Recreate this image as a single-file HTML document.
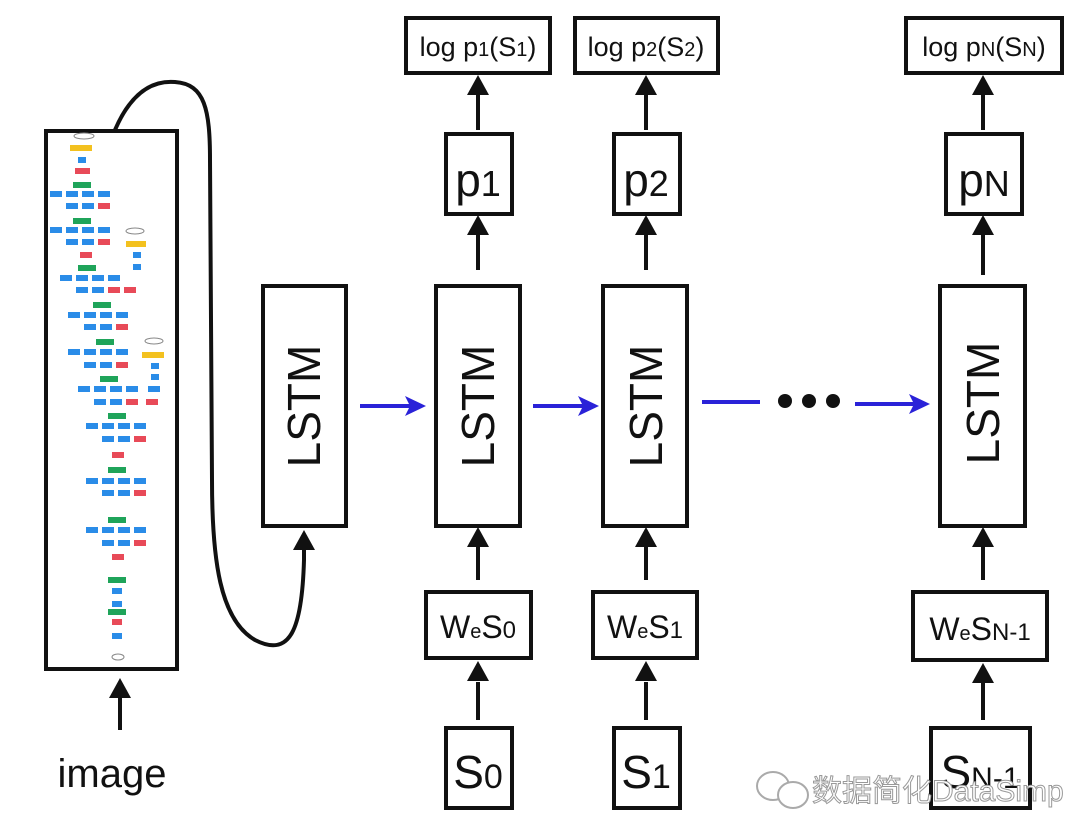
<!DOCTYPE html>
<html><head><meta charset="utf-8"><style>
html,body{margin:0;padding:0;background:#fff;}
svg{display:block;}
text{font-family:"Liberation Sans","Noto Sans CJK SC",sans-serif;fill:#111;}
</style></head><body>
<svg width="1080" height="840" viewBox="0 0 1080 840" xmlns="http://www.w3.org/2000/svg">
<g fill="none" stroke="#111" stroke-width="4">
<rect x="46" y="131" width="131" height="538"/>
<path d="M115,130 C130,95 150,80 175,82 C205,84 210,110 210,160 L212,480 C212,560 220,620 255,640 C290,658 302,630 304,560 L304,545"/>
<rect x="263" y="286" width="83" height="240"/>
<rect x="436" y="286" width="84" height="240"/>
<rect x="603" y="286" width="84" height="240"/>
<rect x="940" y="286" width="85" height="240"/>
<rect x="446" y="134" width="66" height="80"/>
<rect x="614" y="134" width="66" height="80"/>
<rect x="946" y="134" width="76" height="80"/>
<rect x="406" y="18" width="144" height="55"/>
<rect x="575" y="18" width="143" height="55"/>
<rect x="906" y="18" width="156" height="55"/>
<rect x="426" y="592" width="105" height="66"/>
<rect x="593" y="592" width="104" height="66"/>
<rect x="913" y="592" width="134" height="68"/>
<rect x="446" y="728" width="66" height="80"/>
<rect x="614" y="728" width="66" height="80"/>
<rect x="931" y="728" width="99" height="80"/>
</g>
<g stroke="#111" stroke-width="4">
<line x1="304" y1="560" x2="304" y2="545"/>
<line x1="478" y1="130" x2="478" y2="90"/><line x1="646" y1="130" x2="646" y2="90"/><line x1="983" y1="130" x2="983" y2="90"/>
<line x1="478" y1="270" x2="478" y2="230"/><line x1="646" y1="270" x2="646" y2="230"/><line x1="983" y1="275" x2="983" y2="230"/>
<line x1="478" y1="580" x2="478" y2="542"/><line x1="646" y1="580" x2="646" y2="542"/><line x1="983" y1="580" x2="983" y2="542"/>
<line x1="478" y1="720" x2="478" y2="682"/><line x1="646" y1="720" x2="646" y2="682"/><line x1="983" y1="720" x2="983" y2="682"/>
<line x1="120" y1="730" x2="120" y2="695"/>
</g>
<g fill="#111">
<path d="M304,530 L293,550 L315,550 Z"/>
<path d="M478,75 L467,95 L489,95 Z"/><path d="M646,75 L635,95 L657,95 Z"/><path d="M983,75 L972,95 L994,95 Z"/>
<path d="M478,215 L467,235 L489,235 Z"/><path d="M646,215 L635,235 L657,235 Z"/><path d="M983,215 L972,235 L994,235 Z"/>
<path d="M478,527 L467,547 L489,547 Z"/><path d="M646,527 L635,547 L657,547 Z"/><path d="M983,527 L972,547 L994,547 Z"/>
<path d="M478,661 L467,681 L489,681 Z"/><path d="M646,661 L635,681 L657,681 Z"/><path d="M983,663 L972,683 L994,683 Z"/>
<path d="M120,678 L109,698 L131,698 Z"/>
<circle cx="785" cy="401" r="7"/><circle cx="809" cy="401" r="7"/><circle cx="833" cy="401" r="7"/>
</g>
<g stroke="#2a22d8" stroke-width="4">
<line x1="360" y1="406" x2="415" y2="406"/>
<line x1="533" y1="406" x2="588" y2="406"/>
<line x1="702" y1="402" x2="760" y2="402"/>
<line x1="855" y1="404" x2="918" y2="404"/>
</g>
<g fill="#2a22d8">
<path d="M426,406 L405,396 L410,406 L405,416 Z"/>
<path d="M599,406 L578,396 L583,406 L578,416 Z"/>
<path d="M930,404 L909,394 L914,404 L909,414 Z"/>
</g>
<g font-size="46" style="fill:#fff;stroke:#111;stroke-width:0">
<text transform="translate(320,406) rotate(-90)" text-anchor="middle" style="fill:#111">LSTM</text>
<text transform="translate(494,406) rotate(-90)" text-anchor="middle" style="fill:#111">LSTM</text>
<text transform="translate(662,406) rotate(-90)" text-anchor="middle" style="fill:#111">LSTM</text>
<text transform="translate(999,403) rotate(-90)" text-anchor="middle" style="fill:#111">LSTM</text>
</g>
<g font-size="27" text-anchor="middle">
<text x="478" y="56">log p<tspan font-size="20">1</tspan>(S<tspan font-size="20">1</tspan>)</text>
<text x="646" y="56">log p<tspan font-size="20">2</tspan>(S<tspan font-size="20">2</tspan>)</text>
<text x="984" y="56">log p<tspan font-size="20">N</tspan>(S<tspan font-size="20">N</tspan>)</text>
</g>
<g font-size="46" text-anchor="middle">
<text x="478" y="196">p<tspan font-size="36">1</tspan></text>
<text x="646" y="196">p<tspan font-size="36">2</tspan></text>
<text x="984" y="196">p<tspan font-size="36">N</tspan></text>
<text x="478" y="788">S<tspan font-size="34">0</tspan></text>
<text x="646" y="788">S<tspan font-size="34">1</tspan></text>
<text x="980" y="788">S<tspan font-size="30">N-1</tspan></text>
</g>
<g font-size="32" text-anchor="middle">
<text x="478" y="638">W<tspan font-size="20">e</tspan>S<tspan font-size="24">0</tspan></text>
<text x="645" y="638">W<tspan font-size="20">e</tspan>S<tspan font-size="24">1</tspan></text>
<text x="980" y="640">W<tspan font-size="20">e</tspan>S<tspan font-size="24">N-1</tspan></text>
</g>
<text x="112" y="787" font-size="40" text-anchor="middle">image</text>
<g fill="#fff" stroke="#aaa" stroke-width="2">
<ellipse cx="773" cy="786" rx="16" ry="14"/><ellipse cx="793" cy="795" rx="15" ry="13"/>
</g>
<text x="812" y="801" font-size="30" style="fill:#fff;stroke:#999;stroke-width:1">数据简化DataSimp</text>
<g>
<ellipse cx="84" cy="136" rx="10" ry="3" fill="#fff" stroke="#888" stroke-width="1"/>
<rect x="70" y="145" width="22" height="6" fill="#f3c11f"/>
<rect x="78" y="157" width="8" height="6" fill="#2a8ce8"/>
<rect x="75" y="168" width="15" height="6" fill="#e84a58"/>
<rect x="73" y="182" width="18" height="6" fill="#1fa45a"/>
<g fill="#2a8ce8">
<rect x="50" y="191" width="12" height="6"/><rect x="66" y="191" width="12" height="6"/><rect x="82" y="191" width="12" height="6"/><rect x="98" y="191" width="12" height="6"/>
<rect x="66" y="203" width="12" height="6"/><rect x="82" y="203" width="12" height="6"/>
<rect x="50" y="227" width="12" height="6"/><rect x="66" y="227" width="12" height="6"/><rect x="82" y="227" width="12" height="6"/><rect x="98" y="227" width="12" height="6"/>
<rect x="66" y="239" width="12" height="6"/><rect x="82" y="239" width="12" height="6"/>
<rect x="60" y="275" width="12" height="6"/><rect x="76" y="275" width="12" height="6"/><rect x="92" y="275" width="12" height="6"/><rect x="108" y="275" width="12" height="6"/>
<rect x="76" y="287" width="12" height="6"/><rect x="92" y="287" width="12" height="6"/>
<rect x="68" y="312" width="12" height="6"/><rect x="84" y="312" width="12" height="6"/><rect x="100" y="312" width="12" height="6"/><rect x="116" y="312" width="12" height="6"/>
<rect x="84" y="324" width="12" height="6"/><rect x="100" y="324" width="12" height="6"/>
<rect x="68" y="349" width="12" height="6"/><rect x="84" y="349" width="12" height="6"/><rect x="100" y="349" width="12" height="6"/><rect x="116" y="349" width="12" height="6"/>
<rect x="84" y="362" width="12" height="6"/><rect x="100" y="362" width="12" height="6"/>
<rect x="78" y="386" width="12" height="6"/><rect x="94" y="386" width="12" height="6"/><rect x="110" y="386" width="12" height="6"/><rect x="126" y="386" width="12" height="6"/><rect x="148" y="386" width="12" height="6"/>
<rect x="94" y="399" width="12" height="6"/><rect x="110" y="399" width="12" height="6"/>
<rect x="86" y="423" width="12" height="6"/><rect x="102" y="423" width="12" height="6"/><rect x="118" y="423" width="12" height="6"/><rect x="134" y="423" width="12" height="6"/>
<rect x="102" y="436" width="12" height="6"/><rect x="118" y="436" width="12" height="6"/>
<rect x="86" y="478" width="12" height="6"/><rect x="102" y="478" width="12" height="6"/><rect x="118" y="478" width="12" height="6"/><rect x="134" y="478" width="12" height="6"/>
<rect x="102" y="490" width="12" height="6"/><rect x="118" y="490" width="12" height="6"/>
<rect x="86" y="527" width="12" height="6"/><rect x="102" y="527" width="12" height="6"/><rect x="118" y="527" width="12" height="6"/><rect x="134" y="527" width="12" height="6"/>
<rect x="102" y="540" width="12" height="6"/><rect x="118" y="540" width="12" height="6"/>
<rect x="112" y="588" width="10" height="6"/><rect x="112" y="601" width="10" height="6"/><rect x="112" y="633" width="10" height="6"/>
<rect x="133" y="252" width="8" height="6"/><rect x="133" y="264" width="8" height="6"/>
<rect x="151" y="363" width="8" height="6"/><rect x="151" y="374" width="8" height="6"/>
</g>
<g fill="#e84a58">
<rect x="98" y="203" width="12" height="6"/><rect x="98" y="239" width="12" height="6"/><rect x="80" y="252" width="12" height="6"/>
<rect x="108" y="287" width="12" height="6"/><rect x="124" y="287" width="12" height="6"/><rect x="116" y="324" width="12" height="6"/>
<rect x="116" y="362" width="12" height="6"/><rect x="126" y="399" width="12" height="6"/><rect x="146" y="399" width="12" height="6"/>
<rect x="134" y="436" width="12" height="6"/><rect x="112" y="452" width="12" height="6"/>
<rect x="134" y="490" width="12" height="6"/><rect x="134" y="540" width="12" height="6"/><rect x="112" y="554" width="12" height="6"/>
<rect x="112" y="619" width="10" height="6"/>
</g>
<g fill="#1fa45a">
<rect x="73" y="218" width="18" height="6"/><rect x="78" y="265" width="18" height="6"/><rect x="93" y="302" width="18" height="6"/>
<rect x="96" y="339" width="18" height="6"/><rect x="100" y="376" width="18" height="6"/><rect x="108" y="413" width="18" height="6"/>
<rect x="108" y="467" width="18" height="6"/><rect x="108" y="517" width="18" height="6"/><rect x="108" y="577" width="18" height="6"/><rect x="108" y="609" width="18" height="6"/>
</g>
<g fill="#f3c11f"><rect x="126" y="241" width="20" height="6"/><rect x="142" y="352" width="22" height="6"/></g>
<ellipse cx="135" cy="231" rx="9" ry="3" fill="#fff" stroke="#888" stroke-width="1"/>
<ellipse cx="154" cy="341" rx="9" ry="3" fill="#fff" stroke="#888" stroke-width="1"/>
<ellipse cx="118" cy="657" rx="6" ry="3" fill="#fff" stroke="#888" stroke-width="1"/>
</g>
</svg>
</body></html>
